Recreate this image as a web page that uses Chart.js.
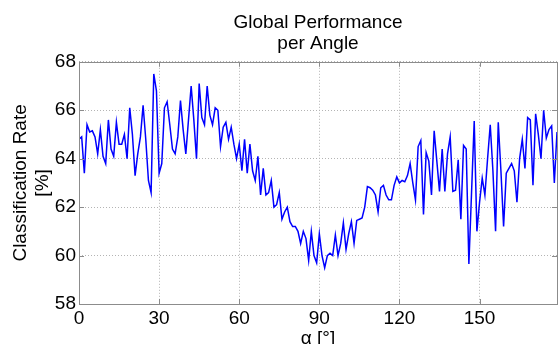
<!DOCTYPE html>
<html>
<head>
<meta charset="utf-8">
<script src="https://cdn.jsdelivr.net/npm/chart.js@4/dist/chart.umd.min.js"></script>
<style>
    body { margin: 0; background: #fff; }
    #wrap { width: 558px; height: 344px; }
</style>
</head>
<body>
<div id="wrap"><canvas id="perfChart" width="558" height="344"></canvas></div>
<script>
// classification rate [%] per angle, one value per degree starting at 0
var rates = [
    64.8, 64.9, 63.4, 65.4, 65.1, 65.15, 64.9, 64.2, 65.2, 64.1,
    63.8, 65.6, 64.4, 64.1, 65.5, 64.6, 64.6, 65.0, 64.0, 66.1,
    65.0, 63.3, 64.2, 64.9, 66.2, 64.8, 63.1, 62.6, 67.5, 66.8,
    63.4, 63.8, 66.1, 66.35, 65.4, 64.4, 64.2, 64.9, 66.4, 65.2,
    64.2, 65.6, 67.0, 65.6, 64.0, 67.1, 65.7, 65.4, 67.0, 65.8,
    65.4, 66.1, 66.0, 64.5, 65.3, 65.5, 64.8, 65.3, 64.6, 64.0,
    64.6, 63.5, 64.8, 63.4, 64.6, 63.5, 63.1, 64.1, 62.5, 63.6,
    62.5, 62.6, 63.1, 62.0, 62.1, 62.6, 61.5, 61.8, 62.0, 61.4,
    61.2, 61.2, 61.0, 60.5, 61.0, 60.7, 59.8, 61.0, 60.0, 59.7,
    60.9, 60.0, 59.5, 60.0, 60.1, 60.0, 60.85, 60.0, 60.5, 61.35,
    60.25, 60.9, 61.4, 60.5, 61.45, 61.5, 61.55, 62.0, 62.85, 62.8,
    62.7, 62.5, 61.8, 62.8, 62.9, 62.5, 62.3, 62.3, 62.9, 63.25,
    63.0, 63.1, 63.05, 63.3, 63.8, 63.0, 62.3, 64.5, 64.75, 61.7,
    64.25, 63.9, 62.5, 65.15, 63.9, 62.65, 64.4, 62.65, 64.2, 64.9,
    62.65, 62.7, 63.95, 61.5, 64.55, 64.4, 59.65, 62.6, 65.55, 61.0,
    62.2, 63.2, 62.5, 64.0, 65.4, 63.5, 61.0, 65.5, 63.5, 61.2,
    63.4, 63.6, 63.8, 63.5, 62.2, 64.0, 64.8, 63.6, 65.7, 65.6,
    62.9, 65.85, 65.0, 64.0, 66.0, 64.85, 65.2, 65.35, 63.0, 65.1
];
var angleStart = 0;
var angleStep = 1;
var xTickValues = [0, 30, 60, 90, 120, 150];
var yTickValues = [58, 60, 62, 64, 66, 68];

var titleLines = ['Global Performance', 'per Angle'];
var yTitleLines = ['Classification Rate', '[%]'];
var xTitle = 'α [°]';

var fontFamily = '"Liberation Sans", Arial, sans-serif';

// matlab style box with inward ticks
var frameBox = {
    id: 'frameBox',
    afterDatasetsDraw: function (chart) {
        var ctx = chart.ctx;
        var a = chart.chartArea;
        var xs = chart.scales.x;
        var ys = chart.scales.y;
        var len = 5;
        ctx.save();
        ctx.strokeStyle = '#8c8c8c';
        ctx.lineWidth = 1;
        ctx.beginPath();
        xTickValues.forEach(function (v) {
            var px = Math.round(xs.getPixelForValue(v)) + 0.5;
            ctx.moveTo(px, a.bottom);
            ctx.lineTo(px, a.bottom - len);
            ctx.moveTo(px, a.top);
            ctx.lineTo(px, a.top + len);
        });
        yTickValues.forEach(function (v) {
            var py = Math.round(ys.getPixelForValue(v)) + 0.5;
            ctx.moveTo(a.left, py);
            ctx.lineTo(a.left + len, py);
            ctx.moveTo(a.right, py);
            ctx.lineTo(a.right - len, py);
        });
        ctx.stroke();
        ctx.strokeRect(Math.round(a.left) + 0.5, Math.round(a.top) + 0.5,
            Math.round(a.right - a.left), Math.round(a.bottom - a.top));
        ctx.restore();
    }
};

var ctx = document.getElementById('perfChart').getContext('2d');
var perfChart = new Chart(ctx, {
    type: 'line',
    data: {
        datasets: [{
            data: rates.map(function (r, i) {
                return {x: angleStart + i * angleStep, y: r};
            }),
            borderColor: '#0000ff',
            borderWidth: 1.5,
            pointRadius: 0,
            tension: 0,
            fill: false
        }]
    },
    options: {
        responsive: false,
        animation: false,
        layout: {padding: {left: 0, right: 1, top: 0, bottom: 0}},
        plugins: {
            legend: {display: false},
            tooltip: {enabled: false},
            title: {
                display: true,
                fullSize: false,
                text: titleLines,
                color: '#000',
                font: {family: fontFamily, size: 19, weight: 'normal', lineHeight: 1.1},
                padding: {top: 12, bottom: 8}
            }
        },
        scales: {
            x: {
                type: 'linear',
                min: 0,
                max: 179,
                afterFit: function (scale) { scale.height = 40; },
                ticks: {
                    stepSize: 30,
                    includeBounds: false,
                    color: '#000',
                    padding: 3,
                    maxRotation: 0,
                    font: {family: fontFamily, size: 19}
                },
                grid: {color: '#b4b4b4', drawTicks: false},
                border: {display: false, dash: [1, 2]},
                title: {
                    display: true,
                    text: xTitle,
                    color: '#000',
                    padding: {top: 0, bottom: -4},
                    font: {family: fontFamily, size: 19, lineHeight: 1}
                }
            },
            y: {
                min: 58,
                max: 68,
                afterFit: function (scale) { scale.width = 79; },
                ticks: {
                    stepSize: 2,
                    color: '#000',
                    padding: 3,
                    font: {family: fontFamily, size: 19}
                },
                grid: {color: '#b4b4b4', drawTicks: false},
                border: {display: false, dash: [1, 2]},
                title: {
                    display: true,
                    text: yTitleLines,
                    color: '#000',
                    padding: {top: 10, bottom: 0},
                    font: {family: fontFamily, size: 19, lineHeight: 1.15}
                }
            }
        }
    },
    plugins: [frameBox]
});
</script>
</body>
</html>
